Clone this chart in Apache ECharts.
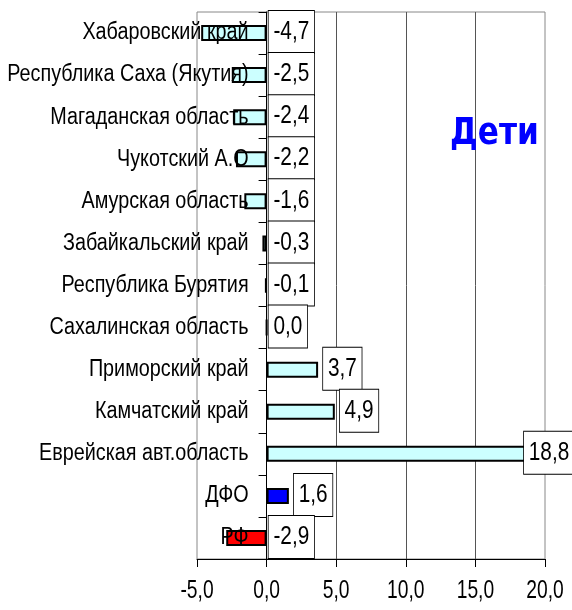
<!DOCTYPE html>
<html>
<head>
<meta charset="utf-8">
<script src="https://cdn.jsdelivr.net/npm/echarts@6/dist/echarts.min.js"></script>
<style>
  html, body { margin: 0; padding: 0; background: #fff; }
  #chart { width: 572px; height: 610px; }
</style>
</head>
<body>
<div id="chart"></div>
<script>
// регионы сверху вниз
var regions = ['Хабаровский край', 'Республика Саха (Якутия)', 'Магаданская область', 'Чукотский А.О',
  'Амурская область', 'Забайкальский край', 'Республика Бурятия', 'Сахалинская область',
  'Приморский край', 'Камчатский край', 'Еврейская авт.область', 'ДФО', 'РФ'];
var values = [-4.7, -2.5, -2.4, -2.2, -1.6, -0.3, -0.1, 0.0, 3.7, 4.9, 18.8, 1.6, -2.9];
var barColors = ['#ccffff', '#ccffff', '#ccffff', '#ccffff', '#ccffff', '#ccffff', '#ccffff',
  '#ccffff', '#ccffff', '#ccffff', '#ccffff', '#0000ff', '#ff0000'];
var xTicks = [-5, 0, 5, 10, 15, 20];

var font = '"Liberation Sans", Arial, sans-serif';

function fmt(v) {
  return Number(v).toFixed(1).replace('.', ',');
}

var myChart = echarts.init(document.getElementById('chart'));

// подписи рисуем сами, чтобы сжать шрифт по горизонтали (как Arial Narrow)
function renderLabels(params, api) {
  var idx = api.value(1);
  var v = api.value(0);
  var base = api.coord([0, idx]);
  var end = api.coord([Math.max(v, 0), idx]);
  var lx = end[0] + (v > 0 ? 5 : 2);
  // у правого края подпись не выходит за область диаграммы
  lx = Math.min(lx, api.getWidth() - 48);
  return {
    type: 'group',
    children: [{
      type: 'text',
      x: base[0] - 18,
      y: base[1],
      scaleX: 0.86,
      style: {
        text: regions[idx],
        x: 0,
        y: 0,
        align: 'right',
        verticalAlign: 'middle',
        font: '23px ' + font,
        fill: '#000'
      }
    }, {
      type: 'text',
      x: lx,
      y: base[1] - 1,
      scaleX: 0.8,
      style: {
        text: fmt(v),
        x: 0,
        y: 0,
        align: 'left',
        verticalAlign: 'middle',
        font: '26px ' + font,
        lineHeight: 26,
        fill: '#000',
        backgroundColor: '#fff',
        borderColor: '#000',
        borderWidth: 1,
        padding: [8, 6, 8, 6]
      }
    }]
  };
}

// подписи оси X
function renderTicks(params, api) {
  var t = api.value(0);
  var p = api.coord([t, regions.length - 1]);
  var band = api.size([0, 1])[1];
  return {
    type: 'text',
    x: p[0],
    y: p[1] + band / 2 + 32,
    scaleX: 0.74,
    style: {
      text: fmt(t),
      x: 0,
      y: 0,
      align: 'center',
      verticalAlign: 'middle',
      font: '26px ' + font,
      fill: '#000'
    }
  };
}

var option = {
  animation: false,
  graphic: [{
    type: 'text',
    x: 450,
    y: 115,
    scaleX: 0.82,
    z: 10,
    style: {
      text: 'Дети',
      x: 0,
      y: 0,
      align: 'left',
      verticalAlign: 'top',
      font: 'bold 38px "DejaVu Sans", Verdana, sans-serif',
      fill: '#0000ff'
    }
  }],
  grid: {
    left: 197,
    right: 27,
    top: 12,
    bottom: 51,
    show: true,
    borderColor: '#888',
    borderWidth: 1,
    outerBoundsMode: 'none',
    containLabel: false
  },
  xAxis: {
    type: 'value',
    min: xTicks[0],
    max: xTicks[xTicks.length - 1],
    interval: 5,
    axisLine: { show: true, lineStyle: { color: '#000', width: 1 } },
    axisTick: { show: true, length: 8, lineStyle: { color: '#000' } },
    axisLabel: { show: false },
    splitLine: { show: true, showMinLine: false, showMaxLine: false, lineStyle: { color: '#555', width: 1 } }
  },
  yAxis: {
    type: 'category',
    inverse: true,
    data: regions,
    axisLine: { show: true, onZero: true, lineStyle: { color: '#000', width: 1 } },
    axisTick: { show: true, length: 8, lineStyle: { color: '#000' } },
    axisLabel: { show: false }
  },
  series: [{
    type: 'bar',
    barWidth: 16,
    data: values.map(function (v, i) {
      return { value: v, itemStyle: { color: barColors[i] } };
    }),
    itemStyle: { borderColor: '#000', borderWidth: 2 }
  }, {
    type: 'custom',
    clip: false,
    z: 5,
    data: values.map(function (v, i) { return [v, i]; }),
    encode: { x: 0, y: 1 },
    renderItem: renderLabels
  }, {
    type: 'custom',
    clip: false,
    z: 5,
    data: xTicks.map(function (t) { return [t]; }),
    encode: { x: 0 },
    renderItem: renderTicks
  }]
};

myChart.setOption(option);
</script>
</body>
</html>
